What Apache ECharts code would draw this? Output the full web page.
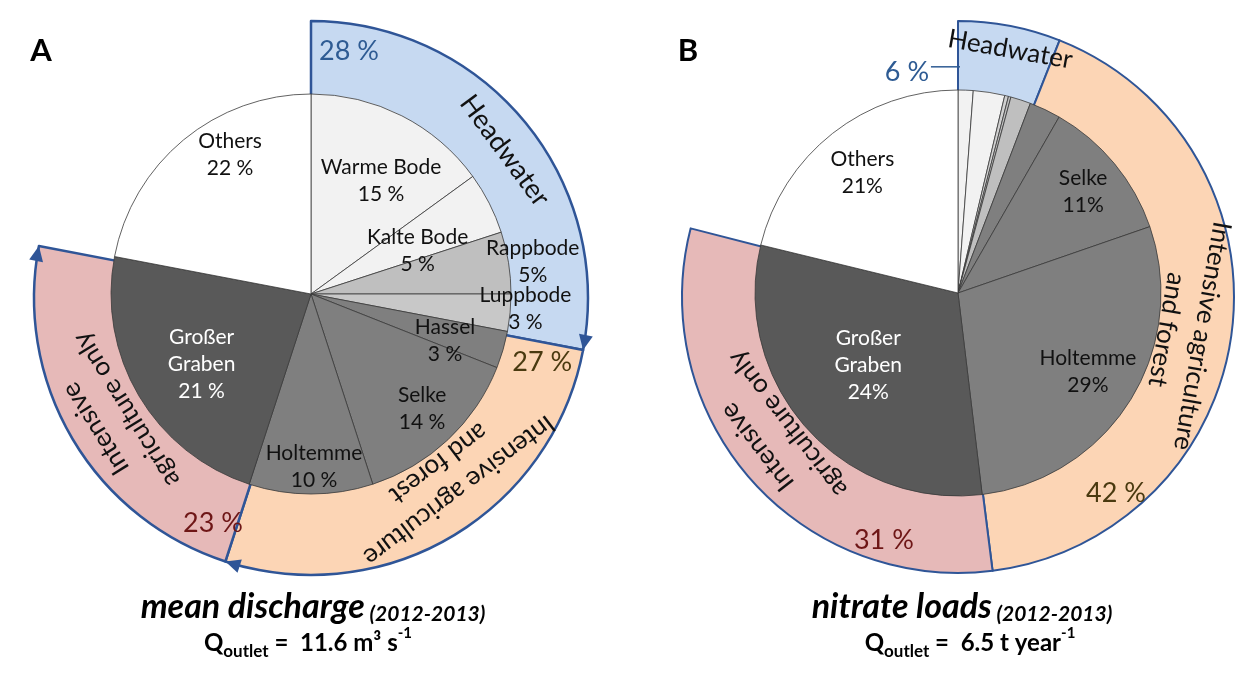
<!DOCTYPE html>
<html><head><meta charset="utf-8">
<script src="https://cdn.jsdelivr.net/npm/echarts@6/dist/echarts.min.js"></script>
<style>html,body{margin:0;padding:0;background:#fff}#c{width:1253px;height:684px}</style>
</head><body><div id="c"></div>
<script>
// ---------- DATA ----------
// Panel A: mean discharge (2012-2013), share of outlet discharge (%)
const namesA = ['Warme Bode','Kalte Bode','Rappbode','Luppbode','Hassel','Selke','Holtemme','Großer Graben','Others'];
const valuesA = [15, 5, 5, 3, 3, 14, 10, 23, 22];
const labelsA = ['Warme Bode\n15 %','Kalte Bode\n5 %','Rappbode\n5%','Luppbode\n3 %','Hassel\n3 %','Selke\n14 %','Holtemme\n10 %','Großer\nGraben\n21 %','Others\n22 %'];
const groupsA = ['Headwater','Intensive agriculture and forest','Intensive agriculture only','Others'];
const groupValuesA = [28, 27, 23, 22];
const groupPctA = ['28 %','27 %','23 %',''];

// Panel B: nitrate loads (2012-2013), share of outlet load (%)
const namesB = ['Warme Bode','Kalte Bode','Rappbode','Luppbode','Headwater (other)','Hassel','Selke','Holtemme','Großer Graben','Others'];
const valuesB = [1.2, 2.5, 0.3, 0.2, 1.6, 2.5, 11.4, 28.4, 30.7, 21.2];
const labelsB = ['','','','','','','Selke\n11%','Holtemme\n29%','Großer\nGraben\n24%','Others\n21%'];
const groupsB = ['Headwater','Intensive agriculture and forest','Intensive agriculture only','Others'];
const groupValuesB = [6, 42, 31, 21];
const groupPctB = ['6 %','42 %','31 %',''];

// ---------- STYLE / LAYOUT ----------
const FONT = 'Lato, "Open Sans", sans-serif';
const BLUE = '#2E5B93', BROWN = '#4A3A10', RED = '#6E1616';
const colorsA = ['#F2F2F2','#F2F2F2','#BFBFBF','#C8C8C8','#7F7F7F','#7F7F7F','#7F7F7F','#595959','#FFFFFF'];
const labelColorsA = ['#111','#111','#111','#111','#111','#111','#111','#fff','#111'];
const colorsB = ['#F2F2F2','#F2F2F2','#D0D0D0','#BFBFBF','#BFBFBF','#7F7F7F','#7F7F7F','#7F7F7F','#595959','#FFFFFF'];
const labelColorsB = ['#111','#111','#111','#111','#111','#111','#111','#111','#fff','#111'];
const ringColors = ['#C6D9F1','#FCD5B5','#E6B9B8',null];

const PA = {cx:311, cy:294, r:200, ringCy:298, ringR:277, bw:2.5};
const PB = {cx:958, cy:293, r:203, ringCy:297, ringR:276, bw:2};
// label placements [radius, angle clockwise from top]
const labelPosA = [[133,31.8],[115,68.1],[224,81.8],[215,94],[142,109.3],[160,136],[173,179],[130,237.3],[161,329.8]];
const labelPosB = [null,null,null,null,null,null,[161,51],[152,121.3],[115,231.3],[154,321.6]];

function polar(cx, cy, r, deg){ const a = deg*Math.PI/180; return [cx + r*Math.sin(a), cy - r*Math.cos(a)]; }

function pieSeries(P, names, values, labels, colors, labelColors, labelPos){
  return {
    type:'pie', center:[P.cx, P.cy], radius:[0, P.r], startAngle:90, clockwise:true, z:3,
    silent:true, animation:false, avoidLabelOverlap:false, minAngle:0,
    itemStyle:{borderColor:'#3a3a3a', borderWidth:0.8},
    label:{show:true, position:'inside', rotate:0, fontFamily:FONT, fontSize:21, lineHeight:27,
      formatter: p => labels[p.dataIndex]},
    labelLine:{show:false},
    labelLayout: p => {
      const lp = labelPos[p.dataIndex];
      if(!lp) return {};
      const q = polar(P.cx, P.cy, lp[0], lp[1]);
      return {x:q[0], y:q[1], align:'center', verticalAlign:'middle'};
    },
    data: names.map((n,i)=>({name:n, value:values[i], itemStyle:{color:colors[i]},
      label:{color:labelColors[i], show: labels[i] !== ''}}))
  };
}
function ringSeries(P, groups, values){
  return {
    type:'pie', center:[P.cx, P.ringCy], radius:[P.r-30, P.ringR], startAngle:90, clockwise:true, z:1,
    silent:true, animation:false, label:{show:false}, labelLine:{show:false},
    data: groups.map((g,i)=>({name:g, value:values[i],
      itemStyle: ringColors[i] ? {color:ringColors[i], borderColor:'#2F5597', borderWidth:P.bw}
                               : {color:'rgba(0,0,0,0)', borderWidth:0}}))
  };
}

function txt(x, y, text, opt){
  opt = opt || {};
  return {type:'text', x:x, y:y, rotation:(opt.rot||0)*Math.PI/180, z:10, silent:true,
    style:{text:text, fill:opt.color||'#111', fontFamily:FONT, fontSize:opt.size||26,
      fontWeight:opt.weight||'normal', lineHeight:opt.lh||32,
      align:'center', verticalAlign:'middle', textAlign:'center', textVerticalAlign:'middle'}};
}
function ringText(P, r, th, text, opt){ const q = polar(P.cx, P.cy, r, th); return txt(q[0], q[1], text, opt); }

function arrows(P, values){
  const out = []; let cum = 0; const total = values.reduce((a,b)=>a+b,0);
  for(let i=0;i<values.length;i++){
    cum += values[i];
    if(!ringColors[i]) continue;
    const th = cum/total*360, a = th*Math.PI/180;
    const tip = polar(P.cx, P.ringCy, P.ringR, th);
    const t = [Math.cos(a), Math.sin(a)], n = [Math.sin(a), -Math.cos(a)];
    const bc = [tip[0]-15*t[0], tip[1]-15*t[1]];
    out.push({type:'polygon', z:9, silent:true,
      shape:{points:[tip, [bc[0]+7*n[0], bc[1]+7*n[1]], [bc[0]-7*n[0], bc[1]-7*n[1]]]},
      style:{fill:'#2F5597'}});
  }
  return out;
}

const titleRich = {
  a:{fontFamily:FONT, fontSize:34, fontWeight:'bold', fontStyle:'italic', lineHeight:41, verticalAlign:'bottom', fill:'#000', color:'#000'},
  b:{fontFamily:FONT, fontSize:21, fontWeight:'bold', fontStyle:'italic', lineHeight:34, verticalAlign:'bottom', fill:'#000', color:'#000'}
};
const qRich = {
  q:{fontFamily:FONT, fontSize:24, fontWeight:'bold', lineHeight:34, verticalAlign:'middle', fill:'#000', color:'#000'},
  sub:{fontFamily:FONT, fontSize:17, fontWeight:'bold', lineHeight:14, verticalAlign:'bottom', fill:'#000', color:'#000'},
  sup:{fontFamily:FONT, fontSize:15, fontWeight:'bold', lineHeight:18, verticalAlign:'top', fill:'#000', color:'#000'}
};
function richText(x, y, text, rich){
  return {type:'text', x:x, y:y, z:10, silent:true,
    style:{text:text, rich:rich, align:'center', verticalAlign:'middle', textAlign:'center', textVerticalAlign:'middle'}};
}

const pct6 = polar(PB.cx, PB.cy, 227, 347);
const graphics = [
  txt(41, 51, 'A', {size:31, weight:'bold', color:'#000'}),
  txt(688, 51, 'B', {size:31, weight:'bold', color:'#000'}),
  // Panel A ring texts
  ringText(PA, 246, 8.9, groupPctA[0], {size:27, color:BLUE}),
  ringText(PA, 241, 106.4, groupPctA[1], {size:27, color:BROWN}),
  ringText(PA, 249, 203.2, groupPctA[2], {size:27, color:RED}),
  ringText(PA, 241, 53.5, groupsA[0], {size:27, rot:-53.5}),
  ringText(PA, 229, 143, 'Intensive agriculture\nand forest', {size:26, rot:-143, lh:34}),
  ringText(PA, 236, 238, 'Intensive\nagriculture only', {size:26, rot:-238, lh:36}),
  // Panel B ring texts
  txt(pct6[0], pct6[1], groupPctB[0], {size:27, color:BLUE}),
  {type:'line', z:9, silent:true, shape:{x1:pct6[0]+24, y1:pct6[1]-5, x2:PB.cx+2, y2:pct6[1]-5}, style:{stroke:BLUE, lineWidth:1.5}},
  ringText(PB, 255, 141.7, groupPctB[1], {size:27, color:BROWN}),
  ringText(PB, 258, 196.7, groupPctB[2], {size:27, color:RED}),
  ringText(PB, 249, 12.1, groupsB[0], {size:26, rot:-10}),
  ringText(PB, 230, 100, 'Intensive agriculture\nand forest', {size:26, rot:-100, lh:36}),
  ringText(PB, 234, 232.5, 'Intensive\nagriculture only', {size:26, rot:-232.5, lh:38}),
  // titles
  richText(313, 604, '{a|mean discharge}{b| (2012-2013)}', titleRich),
  richText(308, 643, '{q|Q}{sub|outlet}{q| =  11.6 m³ s}{sup|-1}', qRich),
  richText(962, 604, '{a|nitrate loads}{b| (2012-2013)}', titleRich),
  richText(970, 643, '{q|Q}{sub|outlet}{q| =  6.5 t year}{sup|-1}', qRich)
].concat(arrows(PA, groupValuesA));

const chart = echarts.init(document.getElementById('c'), null, {renderer:'canvas'});
chart.setOption({
  backgroundColor:'#fff',
  animation:false,
  series:[
    ringSeries(PA, groupsA, groupValuesA),
    pieSeries(PA, namesA, valuesA, labelsA, colorsA, labelColorsA, labelPosA),
    ringSeries(PB, groupsB, groupValuesB),
    pieSeries(PB, namesB, valuesB, labelsB, colorsB, labelColorsB, labelPosB)
  ],
  graphic: graphics
});
</script>
</body></html>
